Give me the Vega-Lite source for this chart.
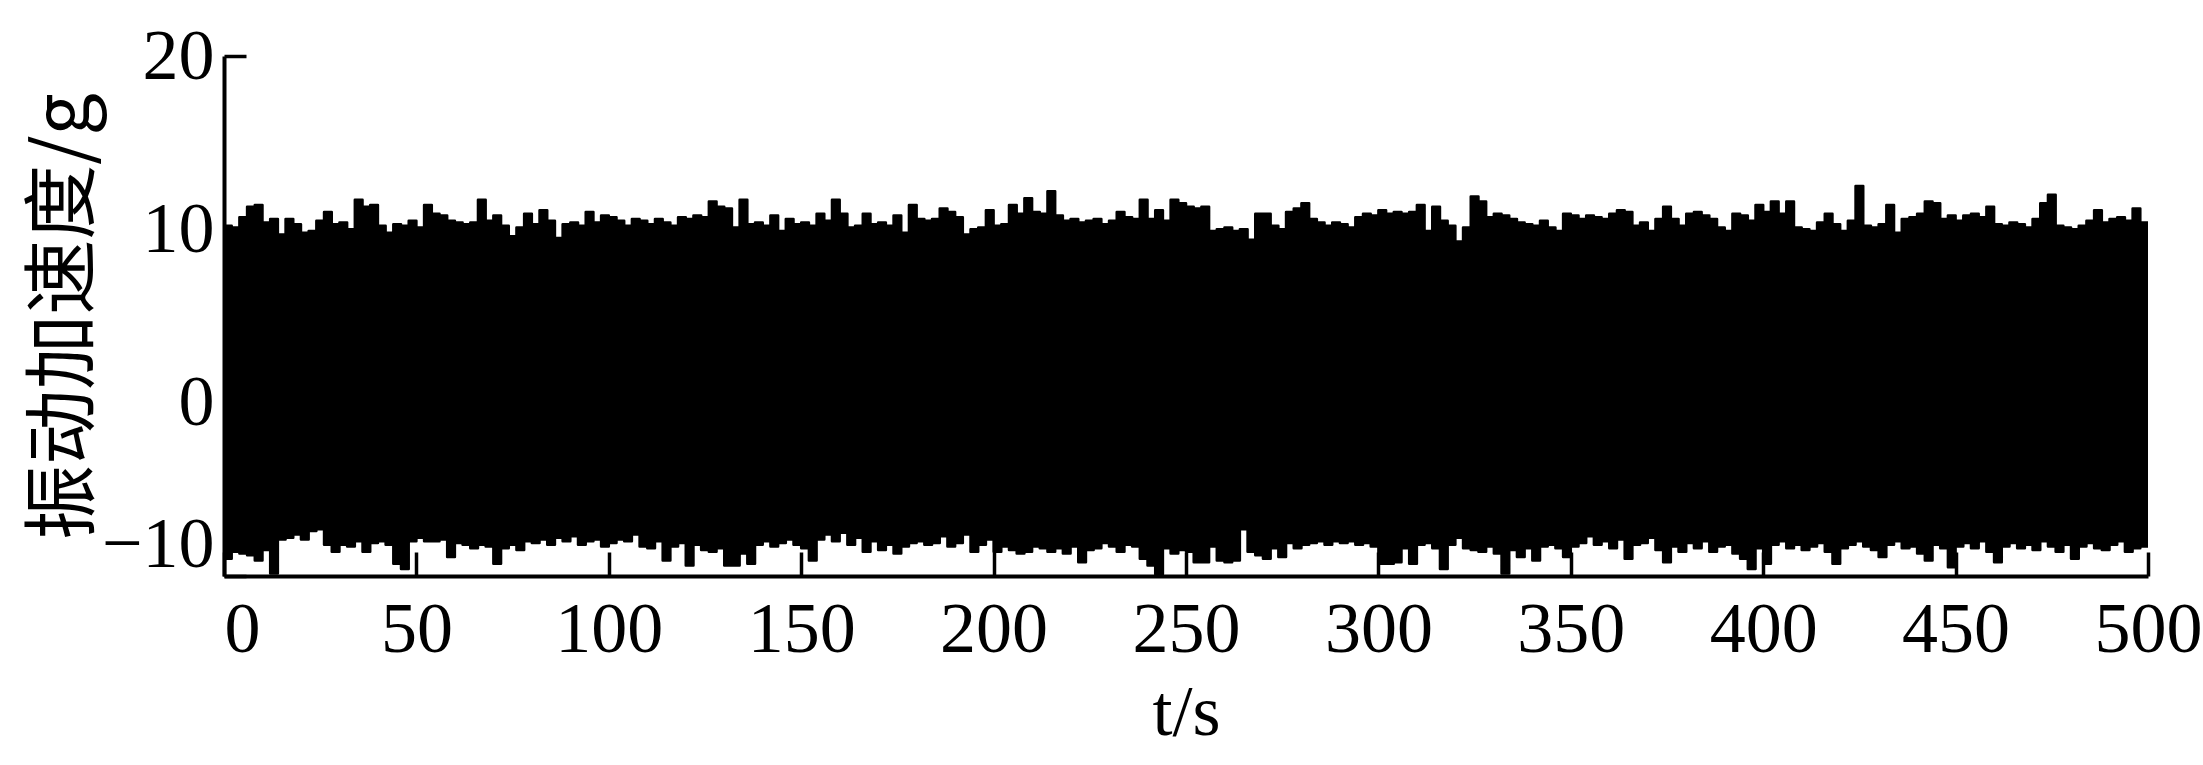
{
  "$schema": "https://vega.github.io/schema/vega-lite/v6.json",
  "autosize": {"type": "none"},
  "padding": {"left": 224, "top": 56, "right": 55, "bottom": 189},
  "width": 1924,
  "height": 520,
  "background": "white",
  "config": {"view": {"stroke": null}},
  "data": {"values": [
    {"t":0,"hi":10.2,"lo":-9.0},{"t":2,"hi":10.1,"lo":-8.6},{"t":4,"hi":10.7,"lo":-8.7},{"t":6,"hi":11.3,"lo":-8.8},{"t":8,"hi":11.4,"lo":-9.1},
    {"t":10,"hi":10.4,"lo":-8.5},{"t":12,"hi":10.6,"lo":-9.85},{"t":14,"hi":9.7,"lo":-7.9},{"t":16,"hi":10.6,"lo":-7.8},{"t":18,"hi":10.3,"lo":-7.6},
    {"t":20,"hi":9.8,"lo":-7.9},{"t":22,"hi":9.9,"lo":-7.4},{"t":24,"hi":10.5,"lo":-7.3},{"t":26,"hi":11.0,"lo":-8.2},{"t":28,"hi":10.3,"lo":-8.6},
    {"t":30,"hi":10.4,"lo":-8.2},{"t":32,"hi":10.0,"lo":-8.3},{"t":34,"hi":11.7,"lo":-8.0},{"t":36,"hi":11.3,"lo":-8.6},{"t":38,"hi":11.4,"lo":-8.1},
    {"t":40,"hi":10.2,"lo":-8.0},{"t":42,"hi":9.8,"lo":-8.2},{"t":44,"hi":10.3,"lo":-9.3},{"t":46,"hi":10.2,"lo":-9.6},{"t":48,"hi":10.5,"lo":-8.0},
    {"t":50,"hi":10.1,"lo":-7.8},{"t":52,"hi":11.4,"lo":-8.0},{"t":54,"hi":10.9,"lo":-8.0},{"t":56,"hi":10.8,"lo":-7.9},{"t":58,"hi":10.5,"lo":-8.9},
    {"t":60,"hi":10.4,"lo":-8.1},{"t":62,"hi":10.3,"lo":-8.2},{"t":64,"hi":10.4,"lo":-8.4},{"t":66,"hi":11.7,"lo":-8.2},{"t":68,"hi":10.5,"lo":-8.3},
    {"t":70,"hi":10.8,"lo":-9.3},{"t":72,"hi":10.2,"lo":-8.4},{"t":74,"hi":9.6,"lo":-8.2},{"t":76,"hi":10.1,"lo":-8.5},{"t":78,"hi":10.9,"lo":-8.0},
    {"t":80,"hi":10.3,"lo":-8.1},{"t":82,"hi":11.1,"lo":-7.9},{"t":84,"hi":10.5,"lo":-8.2},{"t":86,"hi":9.5,"lo":-7.8},{"t":88,"hi":10.3,"lo":-8.0},
    {"t":90,"hi":10.4,"lo":-7.7},{"t":92,"hi":10.2,"lo":-8.2},{"t":94,"hi":11.0,"lo":-8.0},{"t":96,"hi":10.4,"lo":-7.9},{"t":98,"hi":10.8,"lo":-8.3},
    {"t":100,"hi":10.7,"lo":-8.1},{"t":102,"hi":10.5,"lo":-7.9},{"t":104,"hi":10.2,"lo":-8.0},{"t":106,"hi":10.6,"lo":-7.6},{"t":108,"hi":10.5,"lo":-8.3},
    {"t":110,"hi":10.3,"lo":-8.4},{"t":112,"hi":10.6,"lo":-8.0},{"t":114,"hi":10.4,"lo":-9.1},{"t":116,"hi":10.2,"lo":-8.3},{"t":118,"hi":10.7,"lo":-8.1},
    {"t":120,"hi":10.6,"lo":-9.4},{"t":122,"hi":10.8,"lo":-8.2},{"t":124,"hi":10.7,"lo":-8.5},{"t":126,"hi":11.6,"lo":-8.6},{"t":128,"hi":11.3,"lo":-8.4},
    {"t":130,"hi":11.2,"lo":-9.4},{"t":132,"hi":10.1,"lo":-9.4},{"t":134,"hi":11.7,"lo":-8.7},{"t":136,"hi":10.3,"lo":-9.3},{"t":138,"hi":10.4,"lo":-8.2},
    {"t":140,"hi":10.2,"lo":-8.0},{"t":142,"hi":10.8,"lo":-8.3},{"t":144,"hi":9.9,"lo":-8.1},{"t":146,"hi":10.6,"lo":-7.9},{"t":148,"hi":10.3,"lo":-8.2},
    {"t":150,"hi":10.4,"lo":-8.4},{"t":152,"hi":10.2,"lo":-9.1},{"t":154,"hi":10.9,"lo":-7.9},{"t":156,"hi":10.5,"lo":-7.6},{"t":158,"hi":11.7,"lo":-8.0},
    {"t":160,"hi":10.9,"lo":-7.5},{"t":162,"hi":10.1,"lo":-8.2},{"t":164,"hi":10.2,"lo":-7.8},{"t":166,"hi":10.9,"lo":-8.6},{"t":168,"hi":10.3,"lo":-8.0},
    {"t":170,"hi":10.4,"lo":-8.5},{"t":172,"hi":10.2,"lo":-8.2},{"t":174,"hi":10.8,"lo":-8.7},{"t":176,"hi":9.8,"lo":-8.3},{"t":178,"hi":11.4,"lo":-8.1},
    {"t":180,"hi":10.6,"lo":-8.0},{"t":182,"hi":10.5,"lo":-8.2},{"t":184,"hi":10.6,"lo":-8.1},{"t":186,"hi":11.2,"lo":-7.7},{"t":188,"hi":11.0,"lo":-8.3},
    {"t":190,"hi":10.7,"lo":-8.1},{"t":192,"hi":9.7,"lo":-7.6},{"t":194,"hi":10.0,"lo":-8.6},{"t":196,"hi":10.1,"lo":-8.2},{"t":198,"hi":11.1,"lo":-7.9},
    {"t":200,"hi":10.2,"lo":-8.6},{"t":202,"hi":10.3,"lo":-8.3},{"t":204,"hi":11.4,"lo":-8.5},{"t":206,"hi":10.9,"lo":-8.7},{"t":208,"hi":11.8,"lo":-8.6},
    {"t":210,"hi":11.0,"lo":-8.3},{"t":212,"hi":10.9,"lo":-8.4},{"t":214,"hi":12.2,"lo":-8.6},{"t":216,"hi":10.8,"lo":-8.4},{"t":218,"hi":10.5,"lo":-8.7},
    {"t":220,"hi":10.6,"lo":-8.3},{"t":222,"hi":10.4,"lo":-9.2},{"t":224,"hi":10.5,"lo":-8.5},{"t":226,"hi":10.6,"lo":-8.4},{"t":228,"hi":10.3,"lo":-8.1},
    {"t":230,"hi":10.5,"lo":-8.3},{"t":232,"hi":11.0,"lo":-8.6},{"t":234,"hi":10.7,"lo":-8.2},{"t":236,"hi":10.6,"lo":-8.3},{"t":238,"hi":11.7,"lo":-9.0},
    {"t":240,"hi":10.6,"lo":-9.4},{"t":242,"hi":11.1,"lo":-9.9},{"t":244,"hi":10.5,"lo":-8.4},{"t":246,"hi":11.7,"lo":-8.7},{"t":248,"hi":11.5,"lo":-8.5},
    {"t":250,"hi":11.3,"lo":-8.6},{"t":252,"hi":11.2,"lo":-9.2},{"t":254,"hi":11.3,"lo":-9.2},{"t":256,"hi":9.9,"lo":-8.3},{"t":258,"hi":10.0,"lo":-9.1},
    {"t":260,"hi":10.1,"lo":-9.2},{"t":262,"hi":9.9,"lo":-9.1},{"t":264,"hi":10.0,"lo":-7.3},{"t":266,"hi":9.4,"lo":-8.6},{"t":268,"hi":10.9,"lo":-8.8},
    {"t":270,"hi":10.9,"lo":-9.0},{"t":272,"hi":10.2,"lo":-8.4},{"t":274,"hi":10.0,"lo":-8.9},{"t":276,"hi":11.0,"lo":-8.1},{"t":278,"hi":11.2,"lo":-8.4},
    {"t":280,"hi":11.5,"lo":-8.2},{"t":282,"hi":10.6,"lo":-8.1},{"t":284,"hi":10.4,"lo":-8.0},{"t":286,"hi":10.2,"lo":-8.2},{"t":288,"hi":10.4,"lo":-8.0},
    {"t":290,"hi":10.3,"lo":-8.1},{"t":292,"hi":10.1,"lo":-8.0},{"t":294,"hi":10.7,"lo":-8.2},{"t":296,"hi":10.9,"lo":-8.1},{"t":298,"hi":10.8,"lo":-8.3},
    {"t":300,"hi":11.1,"lo":-9.3},{"t":302,"hi":10.9,"lo":-9.3},{"t":304,"hi":11.0,"lo":-9.2},{"t":306,"hi":10.9,"lo":-8.4},{"t":308,"hi":11.0,"lo":-9.3},
    {"t":310,"hi":11.4,"lo":-8.2},{"t":312,"hi":9.9,"lo":-8.1},{"t":314,"hi":11.3,"lo":-8.4},{"t":316,"hi":10.5,"lo":-9.6},{"t":318,"hi":10.2,"lo":-8.2},
    {"t":320,"hi":9.3,"lo":-7.8},{"t":322,"hi":10.1,"lo":-8.4},{"t":324,"hi":11.9,"lo":-8.5},{"t":326,"hi":11.6,"lo":-8.6},{"t":328,"hi":10.7,"lo":-8.3},
    {"t":330,"hi":10.9,"lo":-8.7},{"t":332,"hi":10.8,"lo":-9.85},{"t":334,"hi":10.6,"lo":-8.5},{"t":336,"hi":10.4,"lo":-8.9},{"t":338,"hi":10.3,"lo":-8.4},
    {"t":340,"hi":10.2,"lo":-9.1},{"t":342,"hi":10.5,"lo":-8.3},{"t":344,"hi":10.1,"lo":-8.2},{"t":346,"hi":9.9,"lo":-8.4},{"t":348,"hi":10.9,"lo":-8.9},
    {"t":350,"hi":10.8,"lo":-8.3},{"t":352,"hi":10.6,"lo":-8.1},{"t":354,"hi":10.8,"lo":-7.7},{"t":356,"hi":10.7,"lo":-8.2},{"t":358,"hi":10.6,"lo":-8.0},
    {"t":360,"hi":10.9,"lo":-8.4},{"t":362,"hi":11.1,"lo":-7.9},{"t":364,"hi":11.0,"lo":-9.0},{"t":366,"hi":10.2,"lo":-8.2},{"t":368,"hi":10.4,"lo":-8.1},
    {"t":370,"hi":9.9,"lo":-7.8},{"t":372,"hi":10.6,"lo":-8.5},{"t":374,"hi":11.3,"lo":-9.2},{"t":376,"hi":10.6,"lo":-8.3},{"t":378,"hi":10.2,"lo":-8.6},
    {"t":380,"hi":10.9,"lo":-8.1},{"t":382,"hi":11.0,"lo":-8.4},{"t":384,"hi":10.8,"lo":-8.0},{"t":386,"hi":10.6,"lo":-8.6},{"t":388,"hi":10.1,"lo":-8.3},
    {"t":390,"hi":9.9,"lo":-8.2},{"t":392,"hi":10.9,"lo":-8.7},{"t":394,"hi":10.8,"lo":-9.0},{"t":396,"hi":10.5,"lo":-9.6},{"t":398,"hi":11.4,"lo":-8.4},
    {"t":400,"hi":11.0,"lo":-9.3},{"t":402,"hi":11.6,"lo":-8.2},{"t":404,"hi":10.9,"lo":-8.0},{"t":406,"hi":11.6,"lo":-8.4},{"t":408,"hi":10.1,"lo":-8.2},
    {"t":410,"hi":10.0,"lo":-8.5},{"t":412,"hi":9.9,"lo":-8.3},{"t":414,"hi":10.4,"lo":-8.1},{"t":416,"hi":10.9,"lo":-8.6},{"t":418,"hi":10.3,"lo":-9.3},
    {"t":420,"hi":9.9,"lo":-8.4},{"t":422,"hi":10.5,"lo":-8.2},{"t":424,"hi":12.5,"lo":-8.0},{"t":426,"hi":10.2,"lo":-8.3},{"t":428,"hi":10.1,"lo":-8.5},
    {"t":430,"hi":10.3,"lo":-8.9},{"t":432,"hi":11.4,"lo":-8.2},{"t":434,"hi":9.8,"lo":-8.0},{"t":436,"hi":10.6,"lo":-8.4},{"t":438,"hi":10.7,"lo":-8.3},
    {"t":440,"hi":10.9,"lo":-8.7},{"t":442,"hi":11.6,"lo":-9.1},{"t":444,"hi":11.5,"lo":-8.2},{"t":446,"hi":10.6,"lo":-8.4},{"t":448,"hi":10.8,"lo":-9.5},
    {"t":450,"hi":10.5,"lo":-8.3},{"t":452,"hi":10.8,"lo":-8.1},{"t":454,"hi":10.9,"lo":-8.4},{"t":456,"hi":10.7,"lo":-8.0},{"t":458,"hi":11.3,"lo":-8.6},
    {"t":460,"hi":10.3,"lo":-9.2},{"t":462,"hi":10.2,"lo":-8.3},{"t":464,"hi":10.4,"lo":-8.1},{"t":466,"hi":10.3,"lo":-8.4},{"t":468,"hi":10.1,"lo":-8.2},
    {"t":470,"hi":10.6,"lo":-8.5},{"t":472,"hi":11.5,"lo":-8.0},{"t":474,"hi":12.0,"lo":-8.3},{"t":476,"hi":10.2,"lo":-8.6},{"t":478,"hi":10.1,"lo":-8.2},
    {"t":480,"hi":10.0,"lo":-9.0},{"t":482,"hi":10.2,"lo":-8.3},{"t":484,"hi":10.5,"lo":-8.1},{"t":486,"hi":11.1,"lo":-8.4},{"t":488,"hi":10.4,"lo":-8.5},
    {"t":490,"hi":10.6,"lo":-8.2},{"t":492,"hi":10.7,"lo":-8.0},{"t":494,"hi":10.5,"lo":-8.6},{"t":496,"hi":11.2,"lo":-8.4},{"t":498,"hi":10.4,"lo":-8.3},
    {"t":500,"hi":10.4,"lo":-8.3}
  ]},
  "mark": {"type": "area", "interpolate": "step-after", "color": "black", "stroke": "black", "strokeWidth": 2.5, "strokeJoin": "round", "clip": true},
  "encoding": {
    "x": {
      "field": "t", "type": "quantitative",
      "scale": {"domain": [0, 500], "nice": false},
      "axis": {
        "title": "t/s",
        "values": [0, 50, 100, 150, 200, 250, 300, 350, 400, 450, 500],
        "grid": false,
        "domainColor": "black", "domainWidth": 4,
        "tickColor": "black", "tickWidth": 3.5, "tickSize": -24,
        "labelFont": "Liberation Serif", "labelFontSize": 72, "labelColor": "black",
        "labelPadding": 42,
        "labelAlign": {"condition": {"test": "datum.value === 0", "value": "left"}, "value": "center"},
        "titleFont": "Liberation Serif", "titleFontSize": 72, "titleFontWeight": "normal", "titleColor": "black",
        "titlePadding": 12
      }
    },
    "y": {
      "field": "hi", "type": "quantitative",
      "scale": {"domain": [-10, 20], "nice": false},
      "axis": {
        "title": "振动加速度/g",
        "values": [-10, 0, 10, 20],
        "grid": false,
        "domainColor": "black", "domainWidth": 4,
        "tickColor": "black", "tickWidth": 3.5, "tickSize": -22,
        "labelFont": "Liberation Serif", "labelFontSize": 72, "labelColor": "black",
        "labelPadding": 32,
        "labelOffset": {"condition": {"test": "datum.value === -10", "value": -32}, "value": 0},
        "titleFont": "Noto Sans CJK SC", "titleFontSize": 75, "titleFontWeight": "normal", "titleColor": "black",
        "titlePadding": -2
      }
    },
    "y2": {"field": "lo"}
  }
}
